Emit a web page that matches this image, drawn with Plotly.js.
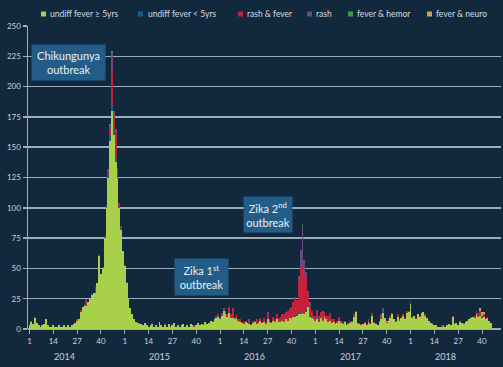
<!DOCTYPE html>
<html>
<head>
<meta charset="utf-8">
<script src="https://cdn.plot.ly/plotly-3.0.1.min.js"></script>
<style>html,body{margin:0;padding:0;background:#12283c;}#chart{width:503px;height:367px;}</style>
</head>
<body>
<div id="chart"></div>
<script>
// ---- Data (weekly case counts) ----
const years = [2014, 2015, 2016, 2017, 2018];
const tickWeeks = [1, 14, 27, 40];
const seriesNames = ['undiff fever \u2265 5yrs', 'undiff fever < 5yrs', 'rash & fever', 'rash', 'fever & hemor', 'fever & neuro'];

// undiff fever >= 5yrs
const feverOld2014 = [3,6,4,9,5,3,2,3,4,8, 3,2,2,3,2,2,3,2,2,3, 2,3,2,3,4,5,7,8,14,18, 20,19,22,25,28,30,30,38,60,45, 50,75,100,125,155,180,160,138,125,100, 82,64];
const feverOld2015 = [52,38,25,17,12,8,6,5,4,4, 3,5,3,2,3,4,2,3,2,6, 3,2,3,2,4,2,3,5,2,3, 2,3,4,2,3,2,4,3,2,3, 5,3,4,3,6,4,5,7,6,8, 9,10];
const feverOld2016 = [8,11,15,12,10,13,9,9,8,9,7,6, 5,4,6,5,4,3,5,6,4,5, 7,5,6,4,8,6,5,7,6,8, 6,6,7,6,8,7,9,8,10,10, 11,12,12,13,12,14,18,10,9,8];
const feverOld2017 = [7,8,6,9,7,10,8,6,7,5, 6,4,5,7,5,4,6,3,4,5, 6,10,14,5,4,3,4,5,3,6, 4,11,5,4,3,6,8,13,9,5, 7,9,12,8,6,10,7,9,11,8,13,14];
const feverOld2018 = [21, 9,11,8,12,10,13,14,11,9,7, 5,4,3,3,2,2, 2,3,2,3,4,3, 10, 4,5,3,6,5,4,6, 7,8,9,10,9,12,10,11,9,10,8,9,7,5];

// undiff fever < 5yrs
const feverYoung2014 = [0,1,0,1,0,0,0,0,0,0, 0,0,0,0,0,0,0,0,0,0, 0,0,0,0,0,0,0,0,1,0, 0,1,0,0,1,0,1,0,1,0, 1,2,2,3,4,4,5,3,2,1, 1,0];
const feverYoung2015 = [1,1,0,0,0,0,0,0,0,0, 0,0,0,0,0,0,0,0,0,0, 0,0,0,0,0,0,0,0,0,0, 0,0,0,0,0,0,0,0,0,0, 0,0,0,0,0,0,0,0,0,0, 0,1];
const feverYoung2016 = [1,0,1,0,0,1,0,0,0,0, 0,0,0,0,0,0,0,0,0,0, 0,0,0,0,0,0,0,0,0,0, 0,0,0,0,0,0,0,0,0,0, 0,0,1,1,1,1,1,2,1,1, 1,0];
const feverYoung2017 = [0,1,0,0,0,0,0,0,0,0, 0,0,0,0,0,0,0,0,0,0, 0,0,0,0,0,0,0,0,0,0, 0,0,0,0,0,0,0,1,0,0, 0,0,0,0,0,0,0,0,0,0, 0,0];
const feverYoung2018 = [1,0,0,0,0,0,0,0,0,0, 0,0,0,0,0,0,0,0,0,0, 0,0,0,0,0,0,0,0,0,0, 0,0,0,0,0,0,1,0,0,0, 0,0,0,0,0];

// rash & fever
const rashFever2014 = [0,0,0,0,0,0,0,0,0,0, 0,0,0,0,0,0,0,0,0,0, 0,0,0,0,0,0,1,0,1,0, 0,5,0,0,0,0,4,0,0,0, 0,0,0,4,6,28,10,22,6,3, 2,0];
const rashFever2015 = [0,0,0,0,0,0,0,0,1,0, 0,0,0,0,0,0,0,0,0,0, 0,0,1,0,0,0,0,0,0,0, 0,0,0,0,0,0,0,0,1,0, 0,0,0,0,0,0,0,0,1,0, 2,1];
const rashFever2016 = [1,2,1,3,2,4,3,8,2,3,1,2, 1,2,1,0,3,1,2,1,4,1, 2,1,3,2,5,2,1,3,2,4, 3,4,5,6,6,8,8,10,12,15, 12,26,38,38,32,26,10,9,5,3];
const rashFever2017 = [4,6,3,5,7,4,3,5,6,3, 2,1,2,3,1,2,1,0,1,2, 1,2,1,0,1,1,0,1,1,2, 1,2,1,1,0,1,2,1,0,1, 1,2,1,0,1,2,1,0,1,1, 2,1];
const rashFever2018 = [0,1,0,1,0,1,0,0,1,0, 0,0,1,0,0,0,0,1,0,0, 0,0,0,1,0,0,0,1,0,1, 0,0,0,1,0,2,1,3,2,1, 2,1,1,0,0];

// rash
const rash2014 = [0,0,0,0,0,0,0,0,0,0, 0,0,0,0,0,0,0,0,0,0, 0,0,0,0,0,0,0,0,0,0, 0,0,0,0,0,0,0,0,0,0, 0,0,0,0,3,16,5,2,0,0, 0,0];
const rash2015 = [0,0,0,0,0,0,0,0,0,0, 0,0,0,0,0,0,0,0,0,0, 0,0,0,0,0,0,0,0,0,0, 0,0,0,0,0,0,0,0,0,0, 0,0,0,0,0,0,0,0,0,0, 0,0];
const rash2016 = [0,0,0,0,0,0,0,0,0,0, 0,0,0,0,0,0,1,0,0,0, 0,0,0,0,0,0,1,0,0,0, 0,0,0,0,0,0,0,0,0,0, 0,1,0,5,14,34,12,5,2,2, 0,0];
const rash2017 = [0,1,2,0,1,0,0,0,0,0, 0,0,0,0,0,0,0,0,0,0, 0,0,0,0,0,0,0,0,0,0, 0,0,0,0,0,0,2,2,0,0, 0,0,0,0,0,0,0,0,0,0, 0,0];
const rash2018 = [0,0,0,0,0,0,0,0,0,0, 0,0,0,0,0,0,0,0,0,0, 0,0,0,0,0,0,0,0,0,0, 0,0,0,0,0,0,1,0,2,1, 0,0,0,0,0];

// fever & hemor
const hemor2014 = [0,0,0,0,0,0,0,0,0,0, 0,0,0,0,0,0,0,0,0,0, 0,0,0,0,0,0,0,0,0,0, 0,0,0,0,0,0,0,0,0,0, 0,0,0,0,1,1,0,0,0,0, 0,0];
const hemor2015 = [0,0,0,0,0,0,0,0,0,0, 0,0,0,0,0,0,0,0,0,0, 0,0,0,0,0,0,0,0,0,0, 0,0,0,0,0,0,0,0,0,0, 0,0,0,0,0,0,0,0,0,0, 0,0];
const hemor2016 = [0,0,0,0,0,0,0,0,0,0, 0,0,0,0,0,0,0,0,0,0, 0,0,0,0,0,0,0,0,0,0, 0,0,0,0,0,0,0,0,0,0, 0,0,0,0,0,1,0,0,0,0, 0,0];
const hemor2017 = [0,0,0,0,0,0,0,0,0,0, 0,0,0,0,1,0,0,0,0,0, 0,0,0,0,0,0,0,0,0,0, 0,0,0,0,0,0,0,0,0,0, 0,0,0,0,0,0,0,0,0,0, 0,0];
const hemor2018 = [0,0,0,0,0,0,0,0,0,0, 0,0,0,0,0,0,0,0,0,0, 0,0,0,0,0,0,0,0,0,0, 0,0,0,0,0,0,0,0,0,0, 0,0,0,0,0];

// fever & neuro
const neuro2014 = [0,0,0,0,0,0,0,0,0,0, 0,0,0,0,0,0,0,0,0,0, 0,0,0,0,0,0,0,0,0,0, 0,0,0,0,0,0,0,0,0,0, 0,0,0,0,0,0,0,0,0,0, 0,0];
const neuro2015 = [0,0,0,0,0,0,0,0,0,0, 0,0,0,0,0,0,0,0,0,0, 0,0,0,0,0,0,0,0,0,0, 0,0,0,0,0,0,0,0,0,0, 0,0,0,0,0,0,0,0,0,0, 0,0];
const neuro2016 = [0,0,0,0,0,0,0,0,0,0, 0,0,0,0,0,0,0,0,0,0, 0,0,0,0,0,0,0,0,0,0, 0,0,0,0,0,0,0,0,0,0, 0,0,0,0,0,0,0,0,0,0, 0,0];
const neuro2017 = [0,0,0,0,0,0,0,0,0,0, 0,0,0,0,0,0,0,0,0,0, 0,0,0,0,0,0,0,0,0,0, 0,0,0,0,0,0,0,0,0,1, 0,0,0,0,0,0,0,0,0,0, 0,0];
const neuro2018 = [0,0,0,0,0,0,0,0,0,0, 0,0,0,0,0,0,0,0,0,0, 0,0,0,0,0,0,0,0,0,0, 0,0,0,0,0,0,0,0,2,3, 2,0,0,0,0];

// ---- styles ----
const seriesColors = ['#a9d04a', '#1f5a88', '#c4213d', '#6b4b82', '#3b9a45', '#c9a158'];
const bg = '#12283c';
const gridCol = '#9aaebd';
const textCol = '#c9d3db';
const fontFam = 'Lato, "Open Sans", sans-serif';

const seriesByYear = [
  [feverOld2014, feverOld2015, feverOld2016, feverOld2017, feverOld2018],
  [feverYoung2014, feverYoung2015, feverYoung2016, feverYoung2017, feverYoung2018],
  [rashFever2014, rashFever2015, rashFever2016, rashFever2017, rashFever2018],
  [rash2014, rash2015, rash2016, rash2017, rash2018],
  [hemor2014, hemor2015, hemor2016, hemor2017, hemor2018],
  [neuro2014, neuro2015, neuro2016, neuro2017, neuro2018]
];

// week position on a continuous axis: (year index)*52 + (week-1)
function pos(yearIdx, week) { return yearIdx * 52 + (week - 1); }

const traces = seriesByYear.map((perYear, s) => {
  const x = [], y = [];
  perYear.forEach((arr, yi) => {
    arr.forEach((v, w) => { x.push(pos(yi, w + 1)); y.push(v); });
  });
  return {
    type: 'bar', name: seriesNames[s], x: x, y: y,
    marker: {color: seriesColors[s], line: {width: 0}},
    showlegend: false, hoverinfo: 'skip'
  };
});

const tickvals = [], ticktext = [];
years.forEach((yr, yi) => tickWeeks.forEach(w => { tickvals.push(pos(yi, w)); ticktext.push(String(w)); }));

// layout geometry
const W = 503, H = 367, mL = 28, mR = 2, mT = 26, mB = 38;
const plotW = W - mL - mR, plotH = H - mT - mB;
const pxPerWeek = 1.832;
const x0px = 29.5; // pixel of first week
const xmin = -(x0px - mL) / pxPerWeek;
const xmax = xmin + plotW / pxPerWeek;

const annotations = [];
// year labels
years.forEach((yr, yi) => annotations.push({
  xref: 'x', yref: 'paper', x: pos(yi, 20), y: 0, yanchor: 'middle', yshift: -27,
  text: String(yr), showarrow: false, font: {family: fontFam, size: 9, color: textCol}
}));

// legend (drawn as swatches + text)
const legendSwatchPx = [41, 138, 238, 307, 348, 427];
const legendTextPx = [48, 145.5, 245, 314, 355, 434];
const legendYpx = 14;
const shapes = [];
const pyPaper = p => 1 + (mT - p) / plotH;
const pxPaper = p => (p - mL) / plotW;
seriesNames.forEach((nm, i) => {
  shapes.push({type: 'rect', xref: 'paper', yref: 'paper',
    x0: pxPaper(legendSwatchPx[i]), x1: pxPaper(legendSwatchPx[i] + 5),
    y0: pyPaper(legendYpx - 2.5), y1: pyPaper(legendYpx + 2.5),
    fillcolor: seriesColors[i], line: {width: 0}});
  annotations.push({xref: 'paper', yref: 'paper', x: pxPaper(legendTextPx[i]), y: pyPaper(legendYpx),
    xanchor: 'left', yanchor: 'middle', text: nm, showarrow: false,
    font: {family: fontFam, size: 8.5, color: '#d2dbe2'}});
});

// outbreak labels
const boxCol = '#235d87';
const boxFont = {family: fontFam, size: 11, color: '#e9eff3'};
function px2x(p) { return (p - x0px) / pxPerWeek; }
function py2y(p) { return (mT + plotH - p) / plotH * 250; }
annotations.push({xref: 'x', yref: 'y', x: px2x(68.5), y: py2y(62.5), text: 'Chikungunya<br>outbreak',
  showarrow: false, bgcolor: boxCol, width: 73, height: 35, borderpad: 0, font: boxFont});
annotations.push({xref: 'x', yref: 'y', x: px2x(201.5), y: py2y(277), text: 'Zika 1<sup>st</sup><br>outbreak',
  showarrow: false, bgcolor: boxCol, width: 53, height: 36, borderpad: 0, font: boxFont});
annotations.push({xref: 'x', yref: 'y', x: px2x(268), y: py2y(214.5), text: 'Zika 2<sup>nd</sup><br>outbreak',
  showarrow: false, bgcolor: boxCol, width: 48, height: 35, borderpad: 0, font: boxFont});

const layout = {
  width: W, height: H,
  margin: {l: mL, r: mR, t: mT, b: mB},
  paper_bgcolor: bg, plot_bgcolor: bg,
  barmode: 'stack', bargap: 0,
  showlegend: false,
  font: {family: fontFam, color: textCol},
  xaxis: {
    range: [xmin, xmax], tickmode: 'array', tickvals: tickvals, ticktext: ticktext,
    showgrid: false, zeroline: false, showline: false,
    ticks: 'outside', ticklen: 4, tickcolor: gridCol, tickwidth: 1,
    tickfont: {family: fontFam, size: 8, color: textCol}
  },
  yaxis: {
    range: [0, 250], tickvals: [0,25,50,75,100,125,150,175,200,225,250],
    showgrid: true, gridcolor: gridCol, gridwidth: 1.5,
    zeroline: true, zerolinecolor: gridCol, zerolinewidth: 1.5,
    showline: true, linecolor: gridCol, linewidth: 1.5,
    ticks: 'outside', ticklen: 4, tickcolor: gridCol, tickwidth: 1.5,
    tickfont: {family: fontFam, size: 8, color: textCol}
  },
  annotations: annotations,
  shapes: shapes
};

Plotly.newPlot('chart', traces, layout, {displayModeBar: false, staticPlot: true});
</script>
</body>
</html>
